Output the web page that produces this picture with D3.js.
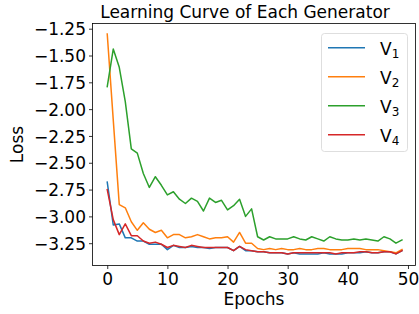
<!DOCTYPE html>
<html>
<head>
<meta charset="utf-8">
<script src="https://cdn.jsdelivr.net/npm/d3@7"></script>
<style>
  body { margin: 0; background: #fff; }
  svg { display: block; font-family: "DejaVu Sans", sans-serif; }
</style>
</head>
<body>
<svg id="chart" width="419" height="314"></svg>
<script>
// values
const seriesNames = ["V1", "V2", "V3", "V4"];
const seriesColors = ["#1f77b4", "#ff7f0e", "#2ca02c", "#d62728"];

const v1 = [-2.68, -3.08, -3.07, -3.20, -3.20, -3.23, -3.23, -3.26, -3.26, -3.26,
    -3.31, -3.27, -3.29, -3.29, -3.28, -3.29, -3.29, -3.30, -3.29, -3.29,
    -3.29, -3.32, -3.28, -3.32, -3.32, -3.33, -3.33, -3.34, -3.34, -3.34,
    -3.35, -3.34, -3.35, -3.35, -3.35, -3.35, -3.34, -3.35, -3.35, -3.35,
    -3.34, -3.34, -3.34, -3.33, -3.34, -3.34, -3.33, -3.33, -3.35, -3.32];
const v2 = [-1.30, -2.10, -2.89, -2.92, -3.05, -3.13, -3.06, -3.12, -3.15, -3.13,
    -3.20, -3.17, -3.17, -3.20, -3.19, -3.17, -3.19, -3.21, -3.20, -3.20,
    -3.19, -3.24, -3.15, -3.25, -3.25, -3.30, -3.31, -3.30, -3.31, -3.30,
    -3.31, -3.31, -3.30, -3.31, -3.31, -3.30, -3.30, -3.31, -3.31, -3.31,
    -3.30, -3.30, -3.30, -3.31, -3.31, -3.31, -3.32, -3.33, -3.34, -3.31];
const v3 = [-1.79, -1.44, -1.61, -1.93, -2.37, -2.41, -2.60, -2.73, -2.63, -2.71,
    -2.80, -2.77, -2.84, -2.88, -2.83, -2.86, -2.95, -2.83, -2.87, -2.85,
    -2.94, -2.90, -2.84, -3.00, -2.93, -3.19, -3.22, -3.19, -3.21, -3.21,
    -3.21, -3.19, -3.21, -3.22, -3.19, -3.21, -3.23, -3.19, -3.21, -3.22,
    -3.22, -3.21, -3.22, -3.21, -3.22, -3.23, -3.19, -3.21, -3.25, -3.22];
const v4 = [-2.75, -3.03, -3.17, -3.07, -3.18, -3.18, -3.23, -3.25, -3.24, -3.26,
    -3.29, -3.27, -3.28, -3.29, -3.27, -3.28, -3.29, -3.29, -3.29, -3.29,
    -3.29, -3.32, -3.28, -3.31, -3.32, -3.33, -3.33, -3.34, -3.34, -3.34,
    -3.35, -3.34, -3.34, -3.34, -3.34, -3.34, -3.34, -3.34, -3.35, -3.34,
    -3.34, -3.34, -3.33, -3.33, -3.34, -3.34, -3.33, -3.33, -3.35, -3.32];

const xTicks = [0, 10, 20, 30, 40, 50];
const yTicks = [-1.25, -1.50, -1.75, -2.00, -2.25, -2.50, -2.75, -3.00, -3.25];

const allSeries = [v1, v2, v3, v4];

const svg = d3.select("#chart");
const plot = { left: 92.5, right: 415.5, top: 23.5, bottom: 265.5 };

const xScale = d3.scaleLinear()
    .domain([-2.45, 51.25])
    .range([plot.left, plot.right]);
const yScale = d3.scaleLinear()
    .domain([-3.458, -1.2015])
    .range([plot.bottom, plot.top]);

// lines
const line = d3.line()
    .x((d, i) => xScale(i))
    .y(d => yScale(d));

svg.append("g")
    .attr("class", "lines")
    .selectAll("path")
    .data(allSeries)
    .enter().append("path")
    .attr("d", line)
    .attr("fill", "none")
    .attr("stroke", (d, i) => seriesColors[i])
    .attr("stroke-width", 1.5)
    .attr("stroke-linejoin", "round")
    .attr("stroke-linecap", "square");

// axes
const fmt = d3.format(".2f");
const xAxis = svg.append("g")
    .attr("transform", `translate(0, ${plot.bottom})`)
    .call(d3.axisBottom(xScale).tickValues(xTicks).tickSizeOuter(0).tickSize(3.5).tickPadding(3));
const yAxis = svg.append("g")
    .attr("transform", `translate(${plot.left}, 0)`)
    .call(d3.axisLeft(yScale).tickValues(yTicks).tickFormat(fmt).tickSizeOuter(0).tickSize(3.5).tickPadding(3));

[xAxis, yAxis].forEach(ax => {
    ax.select(".domain").remove();
    ax.selectAll("line").attr("stroke", "#000").attr("stroke-width", 0.8);
    ax.selectAll("text")
        .attr("fill", "#000")
        .style("font-size", "17px")
        .style("font-family", "DejaVu Sans");
});
yAxis.selectAll("text").attr("dy", "0.36em");
xAxis.selectAll("text").attr("dy", "0.76em");

// frame
svg.append("rect")
    .attr("x", plot.left)
    .attr("y", plot.top)
    .attr("width", plot.right - plot.left)
    .attr("height", plot.bottom - plot.top)
    .attr("fill", "none")
    .attr("stroke", "#000")
    .attr("stroke-width", 0.8);

// titles
svg.append("text")
    .attr("x", 245)
    .attr("y", 18)
    .attr("text-anchor", "middle")
    .style("font-size", "17px")
    .text("Learning Curve of Each Generator");

svg.append("text")
    .attr("x", (plot.left + plot.right) / 2)
    .attr("y", 305)
    .attr("text-anchor", "middle")
    .style("font-size", "17px")
    .text("Epochs");

svg.append("text")
    .attr("transform", `translate(23, ${(plot.top + plot.bottom) / 2}) rotate(-90)`)
    .attr("text-anchor", "middle")
    .style("font-size", "17px")
    .text("Loss");

// legend
const legend = svg.append("g").attr("class", "legend");
legend.append("rect")
    .attr("x", 321.5)
    .attr("y", 33.5)
    .attr("width", 86)
    .attr("height", 118)
    .attr("rx", 3)
    .attr("fill", "#fff")
    .attr("fill-opacity", 0.8)
    .attr("stroke", "#d6d6d6")
    .attr("stroke-width", 0.8);

const items = legend.selectAll("g.item")
    .data(seriesNames)
    .enter().append("g")
    .attr("class", "item")
    .attr("transform", (d, i) => `translate(0, ${47.7 + i * 29})`);

items.append("line")
    .attr("x1", 328)
    .attr("x2", 365)
    .attr("stroke", (d, i) => seriesColors[i])
    .attr("stroke-width", 1.5);

const label = items.append("text")
    .attr("x", 380)
    .attr("y", 7)
    .style("font-size", "17px");
label.append("tspan").text(d => d[0]);
label.append("tspan")
    .attr("dy", 3)
    .style("font-size", "12px")
    .text(d => d.slice(1));
</script>
</body>
</html>
